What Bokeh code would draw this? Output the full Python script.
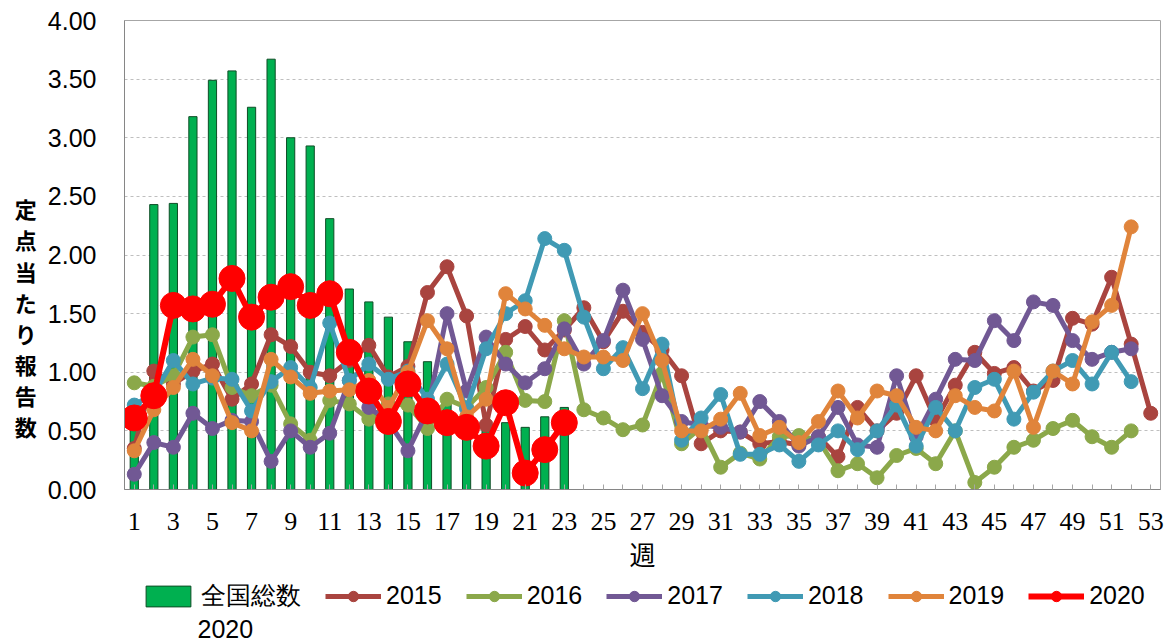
from bokeh.plotting import figure
from bokeh.layouts import column
from bokeh.models import Range1d, FixedTicker, Legend, LegendItem, NumeralTickFormatter
from bokeh.core.properties import value
from bokeh.embed import file_html
from bokeh.resources import INLINE

weeks = list(range(1, 54))
bar_label = "全国総数"
bar_label2 = "2020"
total_2020 = [0.55, 2.43, 2.44, 3.18, 3.49, 3.57, 3.26, 3.67, 3.00, 2.93, 2.31, 1.71,
              1.60, 1.47, 1.26, 1.09, 0.75, 0.66, 0.52, 0.57, 0.53, 0.62, 0.70]

y2015 = [0.35, 1.01, 0.90, 1.01, 1.07, 0.77, 0.90, 1.32, 1.22, 1.00, 0.97, 1.10, 1.23,
         0.96, 1.05, 1.68, 1.90, 1.48, 0.55, 1.28, 1.39, 1.19, 1.36, 1.55, 1.26, 1.52,
         1.34, 1.19, 0.97, 0.39, 0.50, 0.49, 0.39, 0.41, 0.38, 0.45, 0.28, 0.70, 0.50,
         0.65, 0.97, 0.59, 0.89, 1.17, 0.99, 1.04, 0.84, 0.93, 1.46, 1.41, 1.81, 1.24, 0.65]
y2016 = [0.91, 0.88, 0.97, 1.30, 1.32, 0.87, 0.80, 0.89, 0.56, 0.42, 0.76, 0.73, 0.60,
         0.73, 0.72, 0.52, 0.77, 0.70, 0.87, 1.17, 0.76, 0.75, 1.44, 0.68, 0.61, 0.51,
         0.55, 0.99, 0.39, 0.53, 0.19, 0.31, 0.26, 0.45, 0.46, 0.42, 0.16, 0.22, 0.10,
         0.29, 0.35, 0.22, 0.50, 0.06, 0.19, 0.36, 0.42, 0.52, 0.59, 0.45, 0.36, 0.50]
y2017 = [0.13, 0.40, 0.36, 0.65, 0.52, 0.59, 0.58, 0.24, 0.50, 0.36, 0.48, 0.93, 0.70,
         0.58, 0.33, 0.67, 1.50, 0.84, 1.30, 1.07, 0.91, 1.03, 1.37, 1.07, 1.27, 1.70,
         1.28, 0.80, 0.58, 0.55, 0.53, 0.49, 0.75, 0.58, 0.37, 0.45, 0.70, 0.38, 0.36,
         0.97, 0.45, 0.77, 1.11, 1.10, 1.44, 1.27, 1.60, 1.57, 1.27, 1.11, 1.17, 1.20]
y2018 = [0.72, 0.82, 1.10, 0.90, 0.95, 0.94, 0.67, 0.92, 1.04, 0.87, 1.42, 0.93, 1.07,
         0.94, 1.01, 0.77, 1.07, 0.69, 1.20, 1.50, 1.61, 2.14, 2.04, 1.47, 1.03, 1.21,
         0.86, 1.24, 0.42, 0.61, 0.81, 0.30, 0.30, 0.38, 0.24, 0.38, 0.50, 0.34, 0.50,
         0.72, 0.37, 0.70, 0.50, 0.87, 0.94, 0.60, 0.83, 1.01, 1.10, 0.90, 1.17, 0.92]
y2019 = [0.33, 0.68, 0.87, 1.11, 0.97, 0.57, 0.50, 1.11, 0.96, 0.82, 0.84, 0.85, 0.93,
         0.70, 1.00, 1.44, 1.20, 0.62, 0.77, 1.67, 1.54, 1.40, 1.20, 1.13, 1.13, 1.10,
         1.50, 1.10, 0.50, 0.50, 0.60, 0.82, 0.46, 0.53, 0.40, 0.58, 0.84, 0.61, 0.84,
         0.80, 0.53, 0.50, 0.80, 0.70, 0.67, 1.01, 0.53, 1.01, 0.90, 1.43, 1.57, 2.24]
y2020 = [0.61, 0.80, 1.57, 1.54, 1.58, 1.80, 1.47, 1.64, 1.73, 1.57, 1.67, 1.17, 0.84,
         0.58, 0.90, 0.67, 0.57, 0.53, 0.37, 0.74, 0.14, 0.34, 0.57]

series_names = ["2015", "2016", "2017", "2018", "2019", "2020"]
series_values = [y2015, y2016, y2017, y2018, y2019, y2020]
series_colors = ["#A9443F", "#8BA84A", "#715894", "#409AB4", "#E0843B", "#FF0000"]

y_ticks = [0, 0.5, 1, 1.5, 2, 2.5, 3, 3.5, 4]
x_label = "週"
y_label = "定点当たり報告数"

W = 1173
HM = 581          # main chart height
HL = 60           # legend strip height
FL, FR = 124, 1160  # frame left / right edges (pixels)

# ---------------- main chart ----------------
p = figure(width=W, height=HM, output_backend="svg", toolbar_location=None,
           x_range=Range1d(0.5, 53.5), y_range=Range1d(0, 4),
           min_border_left=FL, min_border_right=W - FR, min_border_top=20,
           min_border_bottom=HM - 489)

p.outline_line_color = "#A6A6A6"
p.outline_line_width = 1
p.xgrid.grid_line_color = None
p.ygrid.grid_line_color = "#BFBFBF"
p.ygrid.grid_line_dash = "3 3"
p.ygrid.grid_line_width = 1

p.yaxis.ticker = FixedTicker(ticks=y_ticks)
p.yaxis.formatter = NumeralTickFormatter(format="0.00")
p.yaxis.major_tick_in = 0
p.yaxis.major_tick_out = 0
p.yaxis.minor_tick_line_color = None
p.yaxis.axis_line_color = "#868686"
p.yaxis.major_label_text_font = "Liberation Sans"
p.yaxis.major_label_text_font_size = "25px"
p.yaxis.major_label_text_color = "#000000"
p.yaxis.major_label_standoff = 28
p.yaxis.axis_label = "\n".join(["\u3000"] * 4 + list(y_label))
p.yaxis.axis_label_orientation = "horizontal"
p.yaxis.axis_label_text_font = "Noto Sans CJK JP"
p.yaxis.axis_label_text_font_size = "22px"
p.yaxis.axis_label_text_font_style = "bold"
p.yaxis.axis_label_text_line_height = 0.97
p.yaxis.axis_label_text_color = "#000000"
p.yaxis.axis_label_standoff = 8

p.xaxis.ticker = FixedTicker(ticks=weeks)
p.xaxis.major_label_overrides = {w: ("" if w % 2 == 0 else str(w)) for w in weeks}
p.xaxis.major_tick_in = 5
p.xaxis.major_tick_out = 0
p.xaxis.major_tick_line_color = "#A6A6A6"
p.xaxis.minor_tick_line_color = None
p.xaxis.axis_line_color = "#868686"
p.xaxis.major_label_text_font = "Liberation Serif"
p.xaxis.major_label_text_font_size = "26px"
p.xaxis.major_label_text_color = "#000000"
p.xaxis.major_label_standoff = 23
p.xaxis.axis_label = x_label
p.xaxis.axis_label_text_font = "Noto Sans CJK JP"
p.xaxis.axis_label_text_font_size = "26px"
p.xaxis.axis_label_text_font_style = "normal"
p.xaxis.axis_label_text_color = "#000000"
p.xaxis.axis_label_standoff = 2

# ---------------- legend strip ----------------
# (the column layout aligns this strip's frame with the chart's frame: FL..FR)
pl = figure(width=W, height=HL, output_backend="svg", toolbar_location=None,
            x_range=Range1d(FL, FR), y_range=Range1d(100, 100 + HL),
            x_axis_type=None, y_axis_type=None,
            min_border_left=0, min_border_right=0, min_border_top=0, min_border_bottom=0)
pl.outline_line_color = None
pl.grid.visible = False


def draw_series(fig):
    rs = [fig.vbar(x=weeks[:len(total_2020)], top=total_2020, width=0.42,
                   fill_color="#00B050", line_color="#0E4D26", line_width=1)]
    for name, vals, col in zip(series_names, series_values, series_colors):
        big = name == "2020"
        lr = fig.line(weeks[:len(vals)], vals, line_color=col, line_width=6 if big else 5)
        sr = fig.scatter(weeks[:len(vals)], vals, size=26 if big else 14,
                         fill_color=col, line_color=col)
        rs.append([lr, sr])
    return rs


draw_series(p)
leg_rs = draw_series(pl)   # same data, far outside the strip's visible range; legend swatches only

items = [LegendItem(label=bar_label, renderers=[leg_rs[0]])]
for name, rr in zip(series_names, leg_rs[1:]):
    items.append(LegendItem(label=name, renderers=rr))

legend = Legend(items=items, orientation="horizontal", location=(140 - FL, 29),
                glyph_width=56, glyph_height=26, label_standoff=5, spacing=24,
                padding=0, margin=0, border_line_alpha=0, background_fill_alpha=0,
                label_text_font="Liberation Sans", label_text_font_size="25px",
                label_text_color="#000000")
pl.add_layout(legend)

pl.text(x=[197], y=[100 + (641 - 628)], text=[bar_label2],
        text_font=value("Liberation Sans"), text_font_size="25px", text_color="#000000",
        text_align="left", text_baseline="middle")

layout = column(p, pl)
open("out.html", "w").write(file_html(layout, INLINE))
